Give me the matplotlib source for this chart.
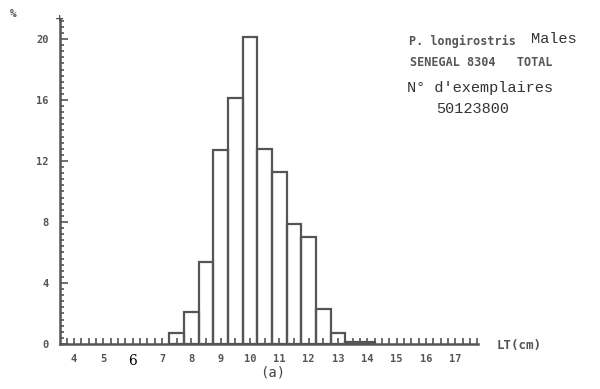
import matplotlib
matplotlib.use("Agg")
import matplotlib.pyplot as plt
import numpy as np
from matplotlib.ticker import MultipleLocator

# length classes (cm, bin centres) and percentages
lt_centres = [7.5, 8.0, 8.5, 9.0, 9.5, 10.0, 10.5, 11.0, 11.5, 12.0, 12.5, 13.0, 13.5, 14.0]
pct = [0.7, 2.1, 5.4, 12.7, 16.1, 20.1, 12.8, 11.3, 7.9, 7.0, 2.3, 0.7, 0.15, 0.15]
x_ticks = list(range(4, 18))
y_ticks = [0, 4, 8, 12, 16, 20]

ink = "#555555"
dot_font = {"family": "DejaVu Sans Mono", "weight": "bold", "color": ink}

fig = plt.figure(figsize=(6, 3.89), dpi=100)
ax = fig.add_axes([0.1, 0.1157, 0.697, 0.835])

ax.bar(lt_centres, pct, width=0.5, fill=False, edgecolor=ink, linewidth=1.6)

ax.set_xlim(3.52, 17.78)
ax.set_ylim(0, 21.3)
ax.spines["top"].set_visible(False)
ax.spines["right"].set_visible(False)
for s in ("left", "bottom"):
    ax.spines[s].set_color(ink)
    ax.spines[s].set_linewidth(1.8)

ax.set_xticks(x_ticks)
ax.xaxis.set_minor_locator(MultipleLocator(0.25))
ax.set_yticks(y_ticks)
ax.yaxis.set_minor_locator(MultipleLocator(0.4))
ax.tick_params(axis="x", which="both", direction="in", length=4, width=1.2, color=ink, pad=7)
ax.tick_params(axis="y", which="major", direction="in", length=6, width=1.2, color=ink, pad=8)
ax.tick_params(axis="y", which="minor", direction="in", length=3, width=1.2, color=ink)
ax.set_xticklabels([str(v) for v in x_ticks], fontdict=dict(dot_font, size=7.5))
ax.set_yticklabels([str(v) for v in y_ticks], fontdict=dict(dot_font, size=7.5))
for lab in ax.get_xticklabels():
    if lab.get_text() == "6":
        lab.set_fontfamily("DejaVu Serif")
        lab.set_fontweight("normal")
        lab.set_color("black")
        lab.set_fontsize(10)

# small cross at the top of the y axis
fig.text(60 / 600, 1 - 19 / 389, "+", ha="center", va="center", fontsize=8, color=ink, fontweight="bold")

fig.text(13 / 600, 1 - 14 / 389, "%", ha="center", va="center", size=8, **dot_font)
fig.text(497 / 600, 1 - 345 / 389, "LT(cm)", ha="left", va="center", size=9, **dot_font)
fig.text(273 / 600, 1 - 373 / 389, "(a)", ha="center", va="center", size=10,
         family="DejaVu Sans Mono", color="#444444")

fig.text(409 / 600, 1 - 41 / 389, "P. longirostris", ha="left", va="center", size=8.5, **dot_font)
fig.text(531 / 600, 1 - 39 / 389, "Males", ha="left", va="center", size=11,
         family="Liberation Mono", color="#333333")
fig.text(410 / 600, 1 - 62 / 389, "SENEGAL 8304   TOTAL", ha="left", va="center", size=8.5, **dot_font)
fig.text(407 / 600, 1 - 88 / 389, "N\u00b0 d'exemplaires", ha="left", va="center", size=11,
         family="Liberation Mono", color="#333333")
fig.text(436 / 600, 1 - 109 / 389, "50123800", ha="left", va="center", size=11,
         family="Liberation Mono", color="#333333")

fig.savefig("out.png", dpi=100)
